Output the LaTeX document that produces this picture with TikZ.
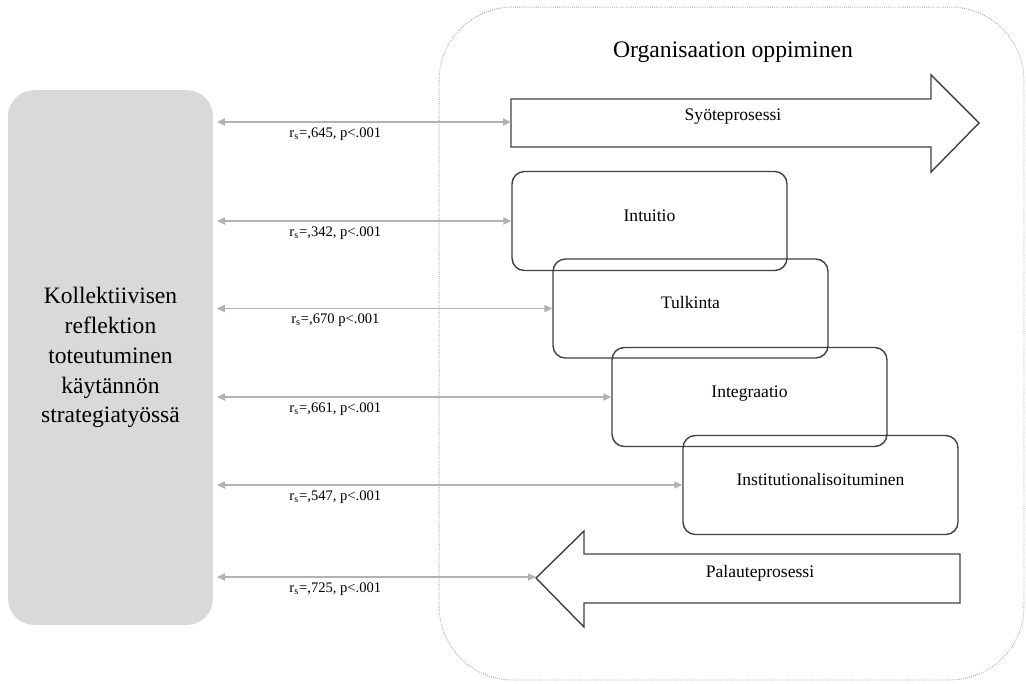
\documentclass[tikz,border=0pt]{standalone}
\usepackage{fontspec}
\setmainfont{Liberation Serif}
\usetikzlibrary{arrows.meta}

\begin{document}
\begin{tikzpicture}
  [x=0.02cm,y=-0.02cm,
   stage/.style={draw=black!75,line width=0.8pt,rounded corners=7pt,minimum width=5.5cm,minimum height=1.98cm,
     text height=7pt,text depth=7pt,font=\fontsize{10}{12}\selectfont},
   corr/.style={draw=black!30,line width=0.9pt,{Triangle[length=4.5pt,width=4pt]}-{Triangle[length=4.5pt,width=4pt]}},
   bigarrow/.style={draw=black!75,line width=0.8pt,line join=miter}]
  \useasboundingbox (0,0) rectangle (1026,683);

  \node (org) at (731.5,343.5) [draw=black!35,line width=0.5pt,dash pattern=on 0.5pt off 0.7pt,
    rounded corners=42pt,minimum width=11.7cm,minimum height=13.46cm] {};
  \node (title) at (733,52) {\fontsize{13.5}{16}\selectfont Organisaation oppiminen};

  \node (refl) at (110.5,357.5) [fill=black!15,rounded corners=15pt,minimum width=4.1cm,minimum height=10.7cm,
    align=center,font=\fontsize{13.4}{17}\selectfont] {Kollektiivisen\\reflektion\\toteutuminen\\käytännön\\strategiatyössä};

  % stages
  \node (intuitio) at (649.5,221) [stage] {Intuitio};
  \node (tulkinta) at (690.5,308.5) [stage] {Tulkinta};
  \node (integraatio) at (749.5,397) [stage] {Integraatio};
  \node (inst) at (820.5,485) [stage] {Institutionalisoituminen};

  % process arrows
  \draw[bigarrow] (511,99) -- (931,99) -- (931,75) -- (979,123) -- (931,172) -- (931,147) -- (511,147) -- cycle;
  \node (input) at (733,117) {\fontsize{10}{12}\selectfont Syöteprosessi};
  \coordinate (inputend) at (511,122);

  \draw[bigarrow] (960,554) -- (584,554) -- (584,531) -- (536,578) -- (584,627) -- (584,603) -- (960,603) -- cycle;
  \node (feedback) at (760,573) {\fontsize{10}{12}\selectfont Palauteprosessi};
  \coordinate (feedend) at (536,577);

  \foreach \to/\txt in {inputend/{r\textsubscript{s}=,645, p<.001},intuitio/{r\textsubscript{s}=,342, p<.001},
      tulkinta/{r\textsubscript{s}=,670 p<.001},integraatio/{r\textsubscript{s}=,661, p<.001},
      inst/{r\textsubscript{s}=,547, p<.001},feedend/{r\textsubscript{s}=,725, p<.001}}
  {
    \draw[corr,shorten <=2pt] (refl.east |- \to) -- (\to);
    \path (refl.east |- \to) ++(122,12) node[font=\fontsize{8.3}{10}\selectfont] {\txt};
  }
\end{tikzpicture}
\end{document}
